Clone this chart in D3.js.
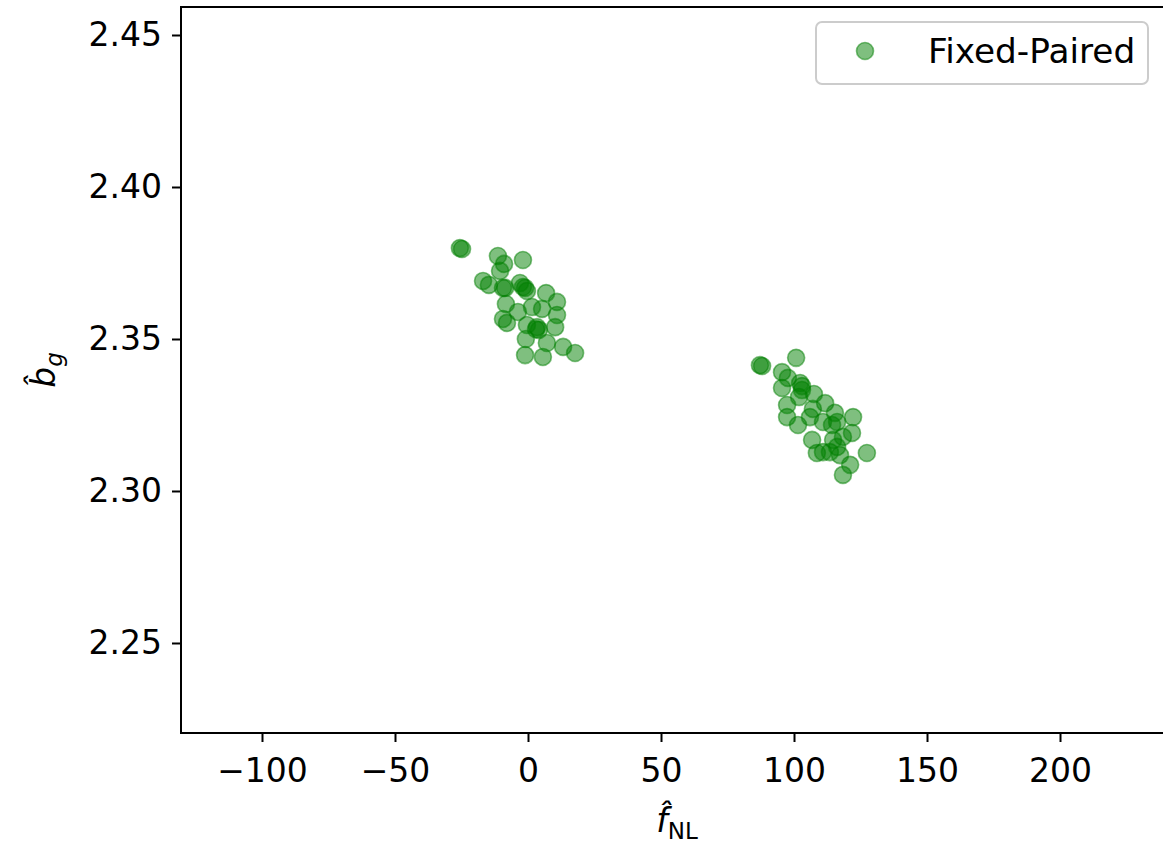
<!DOCTYPE html>
<html>
<head>
<meta charset="utf-8">
<script src="https://cdn.jsdelivr.net/npm/d3@7"></script>
<style>
  html, body { margin: 0; padding: 0; background: #fff; }
  svg { display: block; font-family: "DejaVu Sans", sans-serif; }
</style>
</head>
<body>
<svg id="chart" width="1163" height="845"></svg>
<script>
// Estimated f_NL and b_g values, one entry per realisation
const fnlValues = [
  -25.6, -24.8, -11.3, -1.9, -9.0, -10.5, -16.9, -14.7, -9.4, -8.6, -3.0,
  -1.9, -1.1, -0.4, 6.8, -8.3, 10.9, 1.5, -3.8, 5.3, 10.9, -9.4, -7.9,
  -0.4, 3.4, 4.1, 10.2, -0.8, 7.1, 13.2, 17.7, -1.1, 5.6, 3.0,
  87.2, 88.0, 100.8, 95.5, 97.7, 95.5, 102.3, 103.0, 103.0, 101.9, 107.5,
  97.4, 97.4, 101.5, 106.0, 107.1, 111.7, 110.9, 115.4, 116.2, 114.3,
  122.2, 121.8, 118.4, 106.8, 114.7, 116.2, 113.5, 108.6, 110.9, 117.3,
  127.4, 121.1, 118.4
];
const bgValues = [
  2.3799, 2.3796, 2.3773, 2.3760, 2.3747, 2.3724, 2.3691, 2.3678, 2.3668, 2.3668, 2.3684,
  2.3671, 2.3668, 2.3658, 2.3651, 2.3615, 2.3622, 2.3605, 2.3589, 2.3599, 2.3579, 2.3566, 2.3553,
  2.3546, 2.3539, 2.3530, 2.3539, 2.3500, 2.3487, 2.3474, 2.3454, 2.3447, 2.3441, 2.3532,
  2.3414, 2.3411, 2.3438, 2.3391, 2.3372, 2.3339, 2.3355, 2.3345, 2.3332, 2.3309, 2.3319,
  2.3283, 2.3243, 2.3217, 2.3243, 2.3270, 2.3289, 2.3227, 2.3257, 2.3227, 2.3217,
  2.3243, 2.3191, 2.3178, 2.3168, 2.3168, 2.3145, 2.3128, 2.3125, 2.3128, 2.3118,
  2.3125, 2.3086, 2.3053
];
const xTicks = [-100, -50, 0, 50, 100, 150, 200];
const yTicks = [2.25, 2.30, 2.35, 2.40, 2.45];
const seriesName = "Fixed-Paired";

const points = fnlValues.map((f, i) => ({ f, b: bgValues[i] }));

const svg = d3.select("#chart");
const plot = { left: 181, right: 1170, top: 7, bottom: 733 };

const x = d3.scaleLinear().domain([-130.45, 241.35]).range([plot.left, plot.right]);
const y = d3.scaleLinear().domain([2.22039, 2.45921]).range([plot.bottom, plot.top]);

const green = "#008000";
const fontSize = 33;

// scatter points
svg.append("g")
  .selectAll("circle")
  .data(points)
  .join("circle")
  .attr("cx", d => x(d.f))
  .attr("cy", d => y(d.b))
  .attr("r", 8.5)
  .attr("fill", green)
  .attr("fill-opacity", 0.5)
  .attr("stroke", green)
  .attr("stroke-opacity", 0.5)
  .attr("stroke-width", 1.6);

// axes
const xAxis = d3.axisBottom(x).tickValues(xTicks).tickSize(9).tickPadding(17)
  .tickFormat(d => d < 0 ? "\u2212" + Math.abs(d) : String(d));
const yAxis = d3.axisLeft(y).tickValues(yTicks).tickSize(9).tickPadding(10)
  .tickFormat(d3.format(".2f"));

const gx = svg.append("g").attr("transform", `translate(0,${plot.bottom})`).call(xAxis);
const gy = svg.append("g").attr("transform", `translate(${plot.left},0)`).call(yAxis);
[gx, gy].forEach(g => {
  g.select(".domain").remove();
  g.selectAll(".tick line").attr("stroke", "#000").attr("stroke-width", 2);
  g.selectAll(".tick text").attr("fill", "#000").attr("font-size", fontSize)
    .attr("font-family", "DejaVu Sans, sans-serif");
});

// frame (left, top, bottom spines)
svg.append("path")
  .attr("d", `M${plot.right},${plot.top}H${plot.left}V${plot.bottom}H${plot.right}`)
  .attr("fill", "none").attr("stroke", "#000").attr("stroke-width", 2);

// x-axis label: f-hat with NL subscript
const xl = svg.append("text")
  .attr("x", 677)
  .attr("y", 832)
  .attr("text-anchor", "middle")
  .attr("font-size", fontSize)
  .attr("fill", "#000");
xl.append("tspan").attr("font-style", "italic").text("f\u0302");
xl.append("tspan").attr("font-size", 23).attr("dy", 7).text("NL");

// y-axis label: b-hat with g subscript
const yl = svg.append("text")
  .attr("transform", `translate(55,${(plot.top + plot.bottom) / 2}) rotate(-90)`)
  .attr("text-anchor", "middle")
  .attr("font-size", fontSize)
  .attr("fill", "#000");
yl.append("tspan").attr("font-style", "italic").text("b\u0302");
yl.append("tspan").attr("font-style", "italic").attr("font-size", 23).attr("dy", 7).text("g");

// legend
const lg = svg.append("g").attr("transform", "translate(816,22)");
lg.append("rect")
  .attr("width", 332).attr("height", 62).attr("rx", 6)
  .attr("fill", "#fff").attr("fill-opacity", 0.8)
  .attr("stroke", "#cccccc").attr("stroke-width", 2);
lg.append("circle")
  .attr("cx", 49).attr("cy", 29).attr("r", 8.5)
  .attr("fill", green).attr("fill-opacity", 0.5)
  .attr("stroke", green).attr("stroke-opacity", 0.5).attr("stroke-width", 1.6);
lg.append("text")
  .attr("x", 112).attr("y", 41)
  .attr("font-size", 34.3).attr("fill", "#000")
  .text(seriesName);
</script>
</body>
</html>
